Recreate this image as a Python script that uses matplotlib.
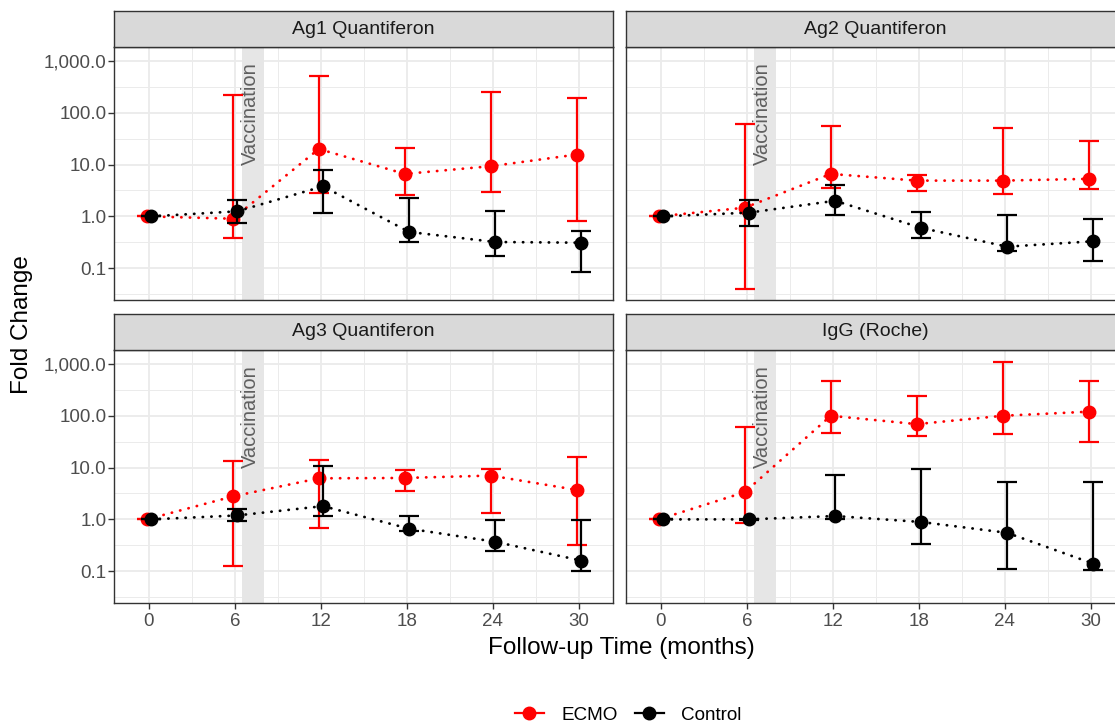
import numpy as np
import matplotlib.pyplot as plt
from matplotlib.lines import Line2D

plt.rcParams['font.family'] = ['Liberation Sans', 'DejaVu Sans']

# follow-up time points (months)
months = np.array([0, 6, 12, 18, 24, 30])

panel_titles = ['Ag1 Quantiferon', 'Ag2 Quantiferon', 'Ag3 Quantiferon', 'IgG (Roche)']

# fold change: median, lower, upper
ag1_ecmo_mid = [1.0, 0.9, 20, 6.6, 9.3, 15.6]
ag1_ecmo_lo = [1.0, 0.38, 2.86, 2.6, 3.0, 0.81]
ag1_ecmo_hi = [1.0, 220, 520, 21, 255, 190]
ag1_ctrl_mid = [1.0, 1.25, 3.8, 0.50, 0.32, 0.31]
ag1_ctrl_lo = [1.0, 0.73, 1.16, 0.32, 0.175, 0.085]
ag1_ctrl_hi = [1.0, 2.1, 7.8, 2.3, 1.25, 0.52]

ag2_ecmo_mid = [1.0, 1.47, 6.6, 4.9, 4.9, 5.3]
ag2_ecmo_lo = [1.0, 0.039, 3.5, 3.1, 2.7, 3.4]
ag2_ecmo_hi = [1.0, 61, 55, 6.3, 50, 28]
ag2_ctrl_mid = [1.0, 1.18, 2.0, 0.60, 0.26, 0.33]
ag2_ctrl_lo = [1.0, 0.64, 1.08, 0.38, 0.21, 0.135]
ag2_ctrl_hi = [1.0, 2.1, 4.1, 1.19, 1.07, 0.90]

ag3_ecmo_mid = [1.0, 2.77, 6.2, 6.3, 7.0, 3.7]
ag3_ecmo_lo = [1.0, 0.125, 0.67, 3.6, 1.34, 0.32]
ag3_ecmo_hi = [1.0, 13.6, 14.2, 8.8, 9.4, 16.3]
ag3_ctrl_mid = [1.0, 1.19, 1.8, 0.66, 0.37, 0.16]
ag3_ctrl_lo = [1.0, 0.91, 1.18, 0.60, 0.24, 0.10]
ag3_ctrl_hi = [1.0, 1.56, 10.6, 1.18, 0.99, 0.99]

igg_ecmo_mid = [1.0, 3.35, 100, 69, 100, 120]
igg_ecmo_lo = [1.0, 0.86, 47, 41, 44, 31]
igg_ecmo_hi = [1.0, 60, 460, 243, 1080, 460]
igg_ctrl_mid = [1.0, 1.0, 1.16, 0.89, 0.55, 0.14]
igg_ctrl_lo = [1.0, 0.97, 1.0, 0.33, 0.11, 0.107]
igg_ctrl_hi = [1.0, 1.03, 7.1, 9.3, 5.3, 5.3]

panels = [
    ((ag1_ecmo_mid, ag1_ecmo_lo, ag1_ecmo_hi), (ag1_ctrl_mid, ag1_ctrl_lo, ag1_ctrl_hi)),
    ((ag2_ecmo_mid, ag2_ecmo_lo, ag2_ecmo_hi), (ag2_ctrl_mid, ag2_ctrl_lo, ag2_ctrl_hi)),
    ((ag3_ecmo_mid, ag3_ecmo_lo, ag3_ecmo_hi), (ag3_ctrl_mid, ag3_ctrl_lo, ag3_ctrl_hi)),
    ((igg_ecmo_mid, igg_ecmo_lo, igg_ecmo_hi), (igg_ctrl_mid, igg_ctrl_lo, igg_ctrl_hi)),
]

y_ticks = [0.1, 1, 10, 100, 1000]
y_labels = ['0.1', '1.0', '10.0', '100.0', '1,000.0']
x_ticks = [0, 6, 12, 18, 24, 30]

W, H = 1115, 724
fig = plt.figure(figsize=(W / 100, H / 100), dpi=100)

# panel boxes in pixels (left, top) -- right column runs past the image edge
col_left = [114, 626]
row_top = [47, 350]
pw, ph = 499, 253
strip_h = 36

def draw_series(ax, data, x, color, z):
    mid, lo, hi = [np.array(v, dtype=float) for v in data]
    ax.plot(x, mid, color=color, lw=2, linestyle=(0, (0.1, 3.0)),
            dash_capstyle='round', zorder=z)
    ax.errorbar(x, mid, yerr=[mid - lo, hi - mid], fmt='none', ecolor=color,
                elinewidth=1.6, capsize=7.5, capthick=1.6, zorder=z)
    ax.plot(x, mid, 'o', color=color, ms=9, zorder=z + 0.5)

for i, (ecmo, ctrl) in enumerate(panels):
    r, c = divmod(i, 2)
    left = col_left[c] / W
    bottom = 1 - (row_top[r] + ph) / H
    ax = fig.add_axes([left, bottom, pw / W, ph / H])
    sax = fig.add_axes([left, 1 - row_top[r] / H, pw / W, strip_h / H])

    # strip
    sax.set_facecolor('#D9D9D9')
    sax.set_xticks([])
    sax.set_yticks([])
    for s in sax.spines.values():
        s.set_color('#333333')
        s.set_linewidth(1.0)
    sax.text(0.5, 0.5, panel_titles[i], ha='center', va='center',
             fontsize=14, color='#1A1A1A', transform=sax.transAxes)

    ax.set_yscale('log')
    ax.set_xlim(-2.44, 32.38)
    ax.set_ylim(10 ** -1.615, 10 ** 3.27)
    ax.axvspan(6.5, 8.0, color='#E6E6E6', lw=0, zorder=1)
    ax.text(7.05, 10 ** 2.97, 'Vaccination', rotation=90, ha='center', va='top',
            fontsize=14.5, color='#5F5F5F', zorder=2)

    draw_series(ax, ecmo, months - 0.15, '#FF0000', 3)
    draw_series(ax, ctrl, months + 0.15, 'black', 4)

    ax.set_xticks(x_ticks)
    ax.set_xticks([3, 9, 15, 21, 27], minor=True)
    ax.set_yticks(y_ticks)
    ax.set_yticklabels(y_labels)
    ax.set_yticks([10 ** -1.5, 10 ** -0.5, 10 ** 0.5, 10 ** 1.5, 10 ** 2.5], minor=True)
    ax.yaxis.set_minor_formatter(plt.NullFormatter())

    ax.set_axisbelow(True)
    ax.grid(which='major', color='#EBEBEB', lw=1.3, zorder=0)
    ax.grid(which='minor', color='#EBEBEB', lw=0.7, zorder=0)
    for s in ax.spines.values():
        s.set_color('#333333')
        s.set_linewidth(1.0)

    ax.tick_params(which='major', length=4, width=1, color='#333333',
                   labelsize=13.5, labelcolor='#4D4D4D')
    ax.tick_params(axis='x', pad=3.5)
    ax.tick_params(axis='y', pad=1.5)
    ax.tick_params(which='minor', length=0)
    if r == 0:
        ax.tick_params(axis='x', length=0, labelbottom=False)
    if c == 1:
        ax.tick_params(axis='y', length=0, labelleft=False)

fig.text(22 / W, 1 - 325 / H, 'Fold Change', rotation=90, ha='center', va='center',
         fontsize=17.5, color='black')
fig.text(621 / W, 1 - 648 / H, 'Follow-up Time (months)', ha='center', va='center',
         fontsize=17.5, color='black')

handles = [
    Line2D([], [], color='#FF0000', lw=1.6, marker='o', ms=9),
    Line2D([], [], color='black', lw=1.6, marker='o', ms=9),
]
fig.legend(handles, ['ECMO', 'Control'], loc='center', ncol=2, frameon=False,
           bbox_to_anchor=(628 / W, 1 - 715 / H), fontsize=13.6,
           handlelength=1.55, handletextpad=0.9, columnspacing=0.9)

fig.savefig('out.png', dpi=100)
